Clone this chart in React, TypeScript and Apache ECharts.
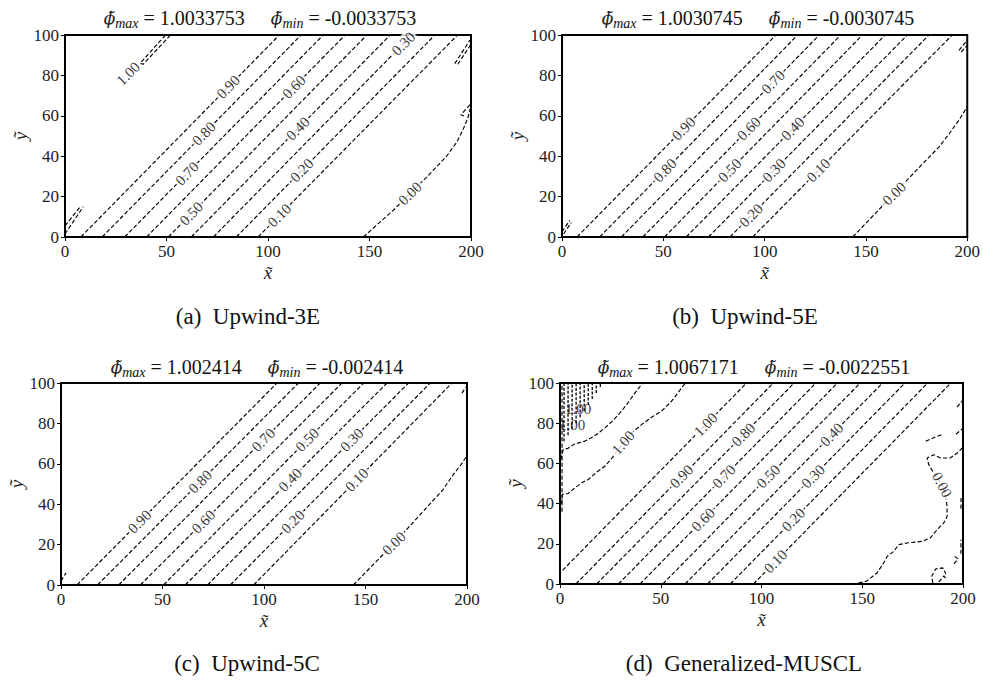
import React, { useEffect, useRef } from 'react';
import * as echarts from 'echarts';

type Pt = [number, number];

// ---------------- data ----------------
const CAPTIONS = ['(a)  Upwind-3E', '(b)  Upwind-5E', '(c)  Upwind-5C', '(d)  Generalized-MUSCL'];
const PHI_MAX = ['1.0033753', '1.0030745', '1.002414', '1.0067171'];
const PHI_MIN = ['-0.0033753', '-0.0030745', '-0.002414', '-0.0022551'];

const X_TICKS = [0, 50, 100, 150, 200];
const Y_TICKS = [0, 20, 40, 60, 80, 100];

const LEVELS = ['0.90', '0.80', '0.70', '0.60', '0.50', '0.40', '0.30', '0.20', '0.10'];
const LEVELS_D = ['1.00', '0.90', '0.80', '0.70', '0.60', '0.50', '0.40', '0.30', '0.20', '0.10'];

// x where each straight contour meets y = 0 and y = 100
const X0_A = [7.8, 18.3, 29.4, 40.2, 50.9, 62.2, 73.1, 84.4, 95.1];
const X100_A = [105.6, 116.3, 127.2, 138.0, 148.7, 160.2, 170.9, 182.2, 193.4];
const LABEL_Y_A = [74.3, 51.2, 31.4, 74.3, 11.6, 53.6, 95.7, 33.0, 10.7];

const X0_B = [7.4, 18.6, 29.3, 39.9, 50.6, 61.3, 72.3, 82.9, 94.1];
const X100_B = [105.6, 116.3, 127.0, 137.6, 148.3, 159.5, 170.4, 181.1, 192.6];
const LABEL_Y_B = [53.6, 33.0, 76.7, 53.6, 33.0, 53.6, 33.0, 10.7, 33.0];

const X0_C = [7.9, 18.0, 28.4, 39.1, 50.5, 61.2, 72.2, 83.4, 94.9];
const X100_C = [106.4, 117.0, 127.7, 138.4, 149.1, 160.6, 171.2, 181.9, 192.6];
const LABEL_Y_C = [31.3, 51.1, 71.8, 31.3, 71.8, 52.0, 71.8, 31.3, 52.0];

const X0_D = [-5.4, 7.9, 18.2, 29.0, 39.7, 51.0, 62.1, 73.2, 84.5, 96.0];
const X100_D = [92.6, 105.9, 116.2, 127.0, 137.7, 149.0, 160.1, 171.2, 182.5, 194.0];
const LABEL_Y_D = [79.3, 53.5, 74.3, 53.5, 32.0, 53.5, 74.3, 53.5, 32.0, 11.2];

// 0.00 contours
const ZERO_A: Pt[] = [[147, 0], [162, 13.5], [178, 29.5], [188, 40], [193, 47], [196, 53], [198.5, 59], [200, 65]];
const ZERO_B: Pt[] = [[143.5, 0], [164, 21.5], [178, 36.3], [186, 44.5], [191, 51], [196, 58], [200, 64.5]];
const ZERO_C: Pt[] = [[144, 0], [164, 20.6], [182, 40.4], [188, 47], [193.5, 55], [197, 59.5], [200, 64]];
const ZERO_D: Pt[] = [
  [145, 0], [152, 1.3], [157.3, 5.5], [160.6, 10.4], [162.3, 13.7], [165.6, 16.2], [168.1, 19.6],
  [172.2, 20.4], [179.7, 21.2], [183.8, 22.9], [187.1, 27], [190.4, 30.3], [192.1, 33.6], [192.1, 38.6],
  [191.3, 44.4], [189.6, 49.4], [185.5, 55.2], [183, 59.4], [182.2, 62.7], [185.5, 64.3], [188.8, 62.7],
  [193.7, 62.7], [197.1, 65.2], [200, 68],
];
const ZERO_LABEL_Y = [21.5, 21.5, 20.6];

// small contour fragments
const EXTRA_A: Pt[][] = [
  [[0, 1.5], [9, 15]],
  [[0, 5.5], [7.5, 15]],
  [[49.5, 100], [37, 86], [38.5, 85.5], [52, 100]],
  [[192, 85.8], [199.5, 97.5]],
  [[193.5, 85.5], [200, 95.5]],
  [[199.5, 65.5], [195, 60.5], [197.5, 59.5]],
];
const EXTRA_B: Pt[][] = [
  [[0, 2.5], [3.8, 8.2]],
  [[0.8, 1.5], [4.6, 7.2]],
  [[195.9, 92.4], [199.2, 96.5]],
  [[197, 91.5], [200, 95]],
];
const EXTRA_C: Pt[][] = [
  [[0, 2], [2.5, 6]],
  [[197.5, 95], [199.5, 98]],
];
const WAVY_UPPER_D: Pt[] = [
  [0.5, 62], [1.6, 67], [4, 67.5], [7, 69.5], [12.4, 71.1], [16, 73], [19, 75], [22.4, 77.8], [26, 81],
  [30.6, 86.1], [34, 90.5], [37.3, 95.2], [39.5, 98], [41, 100],
];
const WAVY_LOWER_D: Pt[] = [
  [0.8, 40], [1.2, 44.6], [4, 45], [7.5, 47.9], [11, 50.5], [14.1, 52], [18, 55.5], [22.4, 58.7],
  [26.5, 63.5], [31.4, 70.3], [36, 75.5], [40.6, 79.4], [45.5, 83], [50.5, 86.1], [55, 90.5], [58.5, 95],
  [61, 98.5], [62.3, 100],
];
const EXTRA_D: Pt[][] = [
  WAVY_UPPER_D,
  WAVY_LOWER_D,
  [[1, 36], [1, 100]],
  [[181.5, 71], [186, 73], [190, 74.5]],
  [[197, 88], [200, 91.5]],
  [[196.5, 74.5], [200, 77.5]],
  [[199, 37.5], [199, 43]],
  [[199, 15], [199, 22]],
  [[195.5, 10], [197.5, 12.5], [195.5, 14]],
  [[185, 0.5], [184.5, 4], [186.5, 7.5], [190, 8], [191.5, 5]],
  [[188, 1], [190.5, 4], [192, 2]],
];
const HATCH_X_D = [2, 4, 6, 8, 10, 12, 14, 16, 18, 20];
const HATCH_Y_D = [71, 74, 77, 80, 83, 86, 89, 92, 95, 98];

type FreeLabel = { text: string; pos: Pt; rotate: number; bg: boolean };
const FREE_LABELS: FreeLabel[][] = [
  [{ text: '1.00', pos: [31.2, 80.9], rotate: 45, bg: true }],
  [],
  [],
  [
    { text: '1.00', pos: [31.4, 70.3], rotate: 48, bg: true },
    { text: '1.00', pos: [9, 87], rotate: 0, bg: false },
    { text: '1.00', pos: [6, 79], rotate: 0, bg: false },
    { text: '0.00', pos: [189.6, 49.4], rotate: -62, bg: true },
  ],
];

// ---------------- layout ----------------
const GRIDS = [
  { left: 65, top: 35, width: 406, height: 202 },
  { left: 562, top: 35, width: 406, height: 202 },
  { left: 61, top: 383, width: 406, height: 202 },
  { left: 560, top: 383, width: 403, height: 201 },
];
const TITLE_POS: Pt[] = [[260, 18], [758, 18], [257, 367], [754, 367]];
const CAPTION_POS: Pt[] = [[248, 316], [745, 316], [247, 663], [744, 663]];

const FONT = "'Liberation Serif', 'DejaVu Serif', serif";
const DASH = [4.2, 2.2];

function xOnPolyline(pts: Pt[], y: number): number {
  for (let i = 0; i < pts.length - 1; i++) {
    const [x1, y1] = pts[i];
    const [x2, y2] = pts[i + 1];
    if ((y - y1) * (y - y2) <= 0 && y1 !== y2) {
      return x1 + ((x2 - x1) * (y - y1)) / (y2 - y1);
    }
  }
  return pts[0][0];
}

function buildOption() {
  const xMin = X_TICKS[0];
  const xMax = X_TICKS[X_TICKS.length - 1];
  const yMin = Y_TICKS[0];
  const yMax = Y_TICKS[Y_TICKS.length - 1];

  const panels = [
    { levels: LEVELS, x0: X0_A, x100: X100_A, ly: LABEL_Y_A, zero: ZERO_A, extra: EXTRA_A },
    { levels: LEVELS, x0: X0_B, x100: X100_B, ly: LABEL_Y_B, zero: ZERO_B, extra: EXTRA_B },
    { levels: LEVELS, x0: X0_C, x100: X100_C, ly: LABEL_Y_C, zero: ZERO_C, extra: EXTRA_C },
    { levels: LEVELS_D, x0: X0_D, x100: X100_D, ly: LABEL_Y_D, zero: ZERO_D, extra: EXTRA_D },
  ];

  const series: any[] = [];
  const lineBase = (p: number, data: Pt[], dash: number[] = DASH, width = 1.15) => ({
    type: 'line',
    xAxisIndex: p,
    yAxisIndex: p,
    data,
    symbol: 'none',
    showSymbol: false,
    silent: true,
    clip: true,
    z: 3,
    lineStyle: { color: '#000', width, type: dash },
  });

  panels.forEach((pn, p) => {
    const g = GRIDS[p];
    const labels: any[] = [];
    pn.levels.forEach((lv, i) => {
      const x0 = pn.x0[i];
      const x1 = pn.x100[i];
      series.push(lineBase(p, [[x0, yMin], [x1, yMax]]));
      const y = pn.ly[i];
      const x = x0 + ((x1 - x0) * y) / (yMax - yMin);
      const ang =
        (Math.atan2(g.height, ((x1 - x0) * g.width) / (xMax - xMin)) * 180) / Math.PI;
      labels.push({ name: lv, value: [x, y], label: { rotate: ang } });
    });
    series.push(lineBase(p, pn.zero));
    if (p < 3) {
      const y = ZERO_LABEL_Y[p];
      labels.push({ name: '0.00', value: [xOnPolyline(pn.zero, y), y], label: { rotate: 44 } });
    }
    pn.extra.forEach((seg) => series.push(lineBase(p, seg)));
    if (p === 3) {
      HATCH_X_D.forEach((hx, k) => {
        series.push(lineBase(p, [[hx, HATCH_Y_D[k]], [hx, yMax]], [3, 1.6], 1.3));
      });
    }
    FREE_LABELS[p].forEach((fl) => {
      labels.push({
        name: fl.text,
        value: fl.pos,
        label: fl.bg
          ? { rotate: fl.rotate }
          : { rotate: fl.rotate, backgroundColor: 'transparent', padding: 0 },
      });
    });
    series.push({
      type: 'scatter',
      xAxisIndex: p,
      yAxisIndex: p,
      symbol: 'circle',
      symbolSize: 1,
      silent: true,
      z: 10,
      itemStyle: { color: 'rgba(0,0,0,0)' },
      label: {
        show: true,
        position: 'inside',
        formatter: '{b}',
        color: '#000',
        fontFamily: FONT,
        fontSize: 15,
        backgroundColor: '#fff',
        padding: [0, 2],
      },
      data: labels,
    });
  });

  const grid = GRIDS.map((g) => ({
    ...g,
    show: true,
    borderColor: '#000',
    borderWidth: 2,
    backgroundColor: 'transparent',
  }));

  const axisCommon = {
    type: 'value',
    nameLocation: 'middle',
    nameTextStyle: { fontFamily: FONT, fontSize: 19, fontStyle: 'italic', color: '#222' },
    axisLine: { show: true, onZero: false, lineStyle: { color: '#000', width: 2 } },
    axisTick: { show: true, length: 4, lineStyle: { color: '#000', width: 1 } },
    axisLabel: { fontFamily: FONT, fontSize: 17, color: '#222', margin: 6 },
    splitLine: { show: false },
  };

  const xAxis = GRIDS.map((_, p) => ({
    ...axisCommon,
    gridIndex: p,
    min: xMin,
    max: xMax,
    interval: X_TICKS[1] - X_TICKS[0],
    name: 'x\u0303',
    nameGap: 26,
  }));
  const yAxis = GRIDS.map((_, p) => ({
    ...axisCommon,
    gridIndex: p,
    min: yMin,
    max: yMax,
    interval: Y_TICKS[1] - Y_TICKS[0],
    name: 'y\u0303',
    nameGap: 27,
  }));

  const graphics: any[] = [];
  const PHI = "'DejaVu Serif', serif";
  GRIDS.forEach((_, p) => {
    graphics.push({
      type: 'text',
      x: TITLE_POS[p][0],
      y: TITLE_POS[p][1],
      silent: true,
      style: {
        text: `{p|\u03d5\u0303}{s|max}{n| = ${PHI_MAX[p]}}{g|}{p|\u03d5\u0303}{s|min}{n| = ${PHI_MIN[p]}}`,
        align: 'center',
        verticalAlign: 'middle',
        textAlign: 'center',
        textVerticalAlign: 'middle',
        fill: '#111',
        fontFamily: FONT,
        fontSize: 20,
        rich: {
          p: { fontFamily: PHI, fontSize: 17, fontStyle: 'italic', fill: '#222', color: '#222' },
          s: { fontFamily: FONT, fontSize: 14, fontStyle: 'italic', padding: [10, 0, 0, 0], fill: '#111', color: '#111' },
          n: { fontFamily: FONT, fontSize: 20, fill: '#111', color: '#111' },
          g: { width: 26 },
        },
      },
    });
    graphics.push({
      type: 'text',
      x: CAPTION_POS[p][0],
      y: CAPTION_POS[p][1],
      silent: true,
      style: {
        text: CAPTIONS[p],
        align: 'center',
        verticalAlign: 'middle',
        textAlign: 'center',
        textVerticalAlign: 'middle',
        fill: '#111',
        fontFamily: FONT,
        fontSize: 23,
      },
    });
  });

  return {
    animation: false,
    backgroundColor: '#fff',
    grid,
    xAxis,
    yAxis,
    series,
    graphic: graphics,
  };
}

export default function App() {
  const ref = useRef<HTMLDivElement>(null);
  useEffect(() => {
    document.body.style.margin = '0';
    if (!ref.current) return;
    const chart = echarts.init(ref.current, undefined, { renderer: 'svg' });
    chart.setOption(buildOption() as any);
    return () => chart.dispose();
  }, []);
  return <div ref={ref} style={{ width: 983, height: 680, background: '#fff' }} />;
}
